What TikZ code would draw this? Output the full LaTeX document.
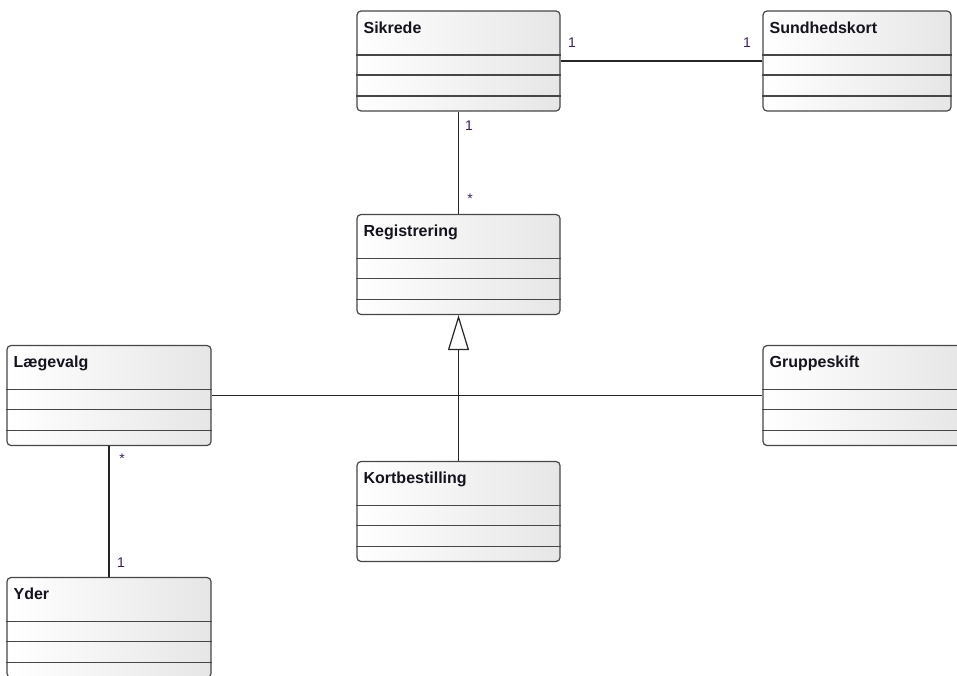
\documentclass[tikz,border=0pt]{standalone}
\usepackage{fontspec}
\setmainfont{Liberation Sans}
\usetikzlibrary{arrows.meta}
\definecolor{edge}{RGB}{70,70,70}
\definecolor{mult}{RGB}{60,30,90}
\tikzset{
  classnode/.style={draw=edge, line width=1.2pt, rounded corners=4pt,
    left color=white, right color={rgb,255:red,230;green,230;blue,230},
    minimum height=100pt, inner sep=0pt},
  titletext/.style={anchor=base west, inner sep=0pt, font=\fontsize{16}{18}\selectfont\bfseries, text={rgb,255:red,20;green,20;blue,30}},
  divider/.style={draw=edge, line width=1.2pt},
  assoc/.style={draw=black!85, line width=1.2pt},
  multlabel/.style={inner sep=0pt, font=\fontsize{14}{16}\selectfont, text=mult},
  genarrow/.style={-{Triangle[open, length=35pt, width=21pt, line width=1.2pt]}}
}
\newcommand{\classbox}[5]{%
  \node[classnode, minimum width=#4pt] (#1) at (#2,#3) {};
  \node[titletext] (#1t) at ([xshift=7pt,yshift=-23pt]#1.north west) {#5};
  \draw[divider] ([yshift=-44.5pt]#1.north west) -- ([yshift=-44.5pt]#1.north east);
  \draw[divider] ([yshift=-64.5pt]#1.north west) -- ([yshift=-64.5pt]#1.north east);
  \draw[divider] ([yshift=-85.5pt]#1.north west) -- ([yshift=-85.5pt]#1.north east);
}
\begin{document}
\begin{tikzpicture}[x=1pt,y=-1pt]
\useasboundingbox (0,0) rectangle (957,675);
\clip (0,0) rectangle (957,675);
\classbox{sik}{458.5}{61}{203}{Sikrede}
\classbox{sun}{857}{61}{188}{Sundhedskort}
\classbox{reg}{458.5}{264.5}{203}{Registrering}
\classbox{lae}{109}{395.5}{204}{Lægevalg}
\classbox{gru}{864.5}{395.5}{203}{Gruppeskift}
\classbox{kor}{458.5}{511.5}{203}{Kortbestilling}
\classbox{yder}{109}{627.5}{204}{Yder}
\draw[assoc] (sik.east) -- (sun.west);
\draw[assoc] (sik.south) -- (reg.north);
\draw[assoc] (lae.east) -- (gru.west);
\draw[assoc] (lae.south) -- (yder.north);
\draw[assoc, genarrow] (kor.north) -- (reg.south);
\node[multlabel] (m1) at (572,43) {1};
\node[multlabel] (m2) at (747,43) {1};
\node[multlabel] (m3) at (469,126) {1};
\node[multlabel] (m4) at (470,199) {*};
\node[multlabel] (m5) at (122,459) {*};
\node[multlabel] (m6) at (121,563) {1};
\end{tikzpicture}
\end{document}
